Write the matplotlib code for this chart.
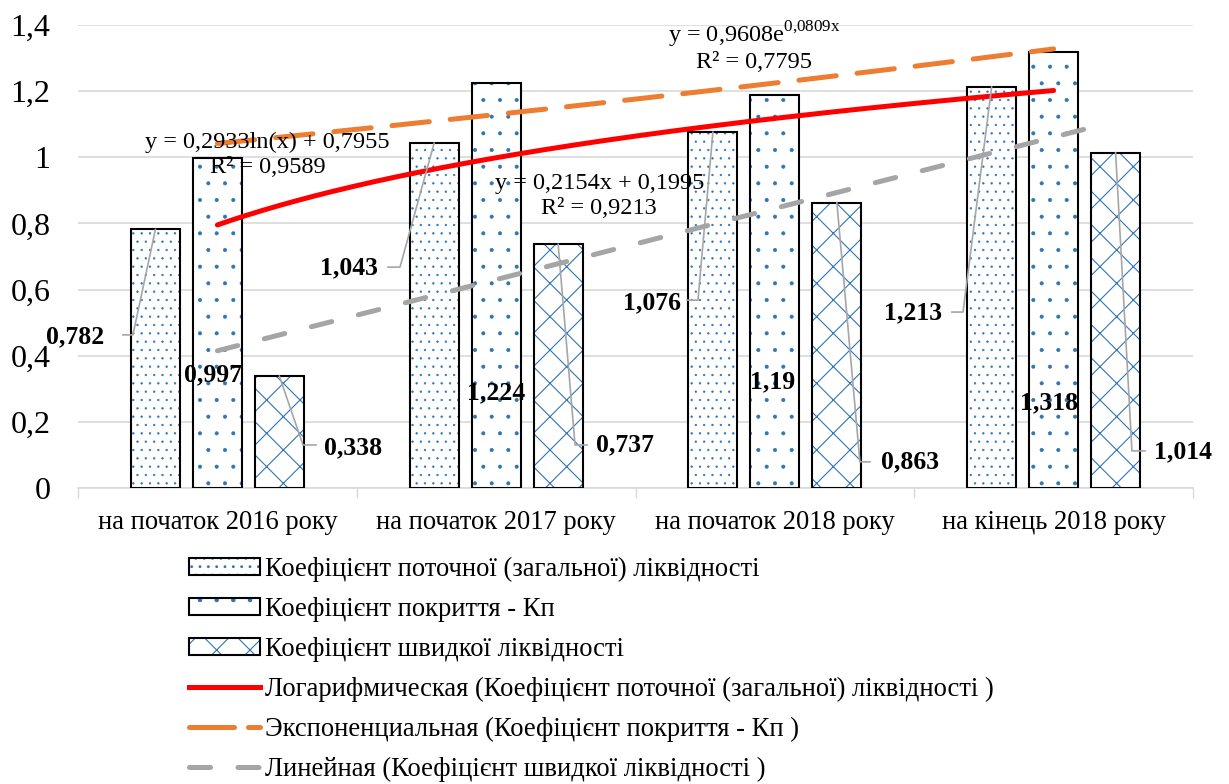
import numpy as np
import matplotlib.pyplot as plt
from matplotlib.patches import Patch
from matplotlib.lines import Line2D

plt.rcParams['font.family'] = ['Liberation Serif', 'DejaVu Serif']
plt.rcParams['mathtext.fontset'] = 'custom'
plt.rcParams['mathtext.rm'] = 'Liberation Serif'
plt.rcParams['hatch.linewidth'] = 0.8

categories = ['на початок 2016 року', 'на початок 2017 року',
              'на початок 2018 року', 'на кінець 2018 року']
current_ratio = [0.782, 1.043, 1.076, 1.213]
coverage_ratio = [0.997, 1.224, 1.19, 1.318]
quick_ratio = [0.338, 0.737, 0.863, 1.014]

series_names = ['Коефіцієнт поточної (загальної) ліквідності',
                'Коефіцієнт покриття - Кп',
                'Коефіцієнт швидкої ліквідності']

# trendline coefficients and R^2
log_coef = [0.2933, 0.7955]
log_r2 = 0.9589
exp_coef = [0.9608, 0.0809]
exp_r2 = 0.7795
lin_coef = [0.2154, 0.1995]
lin_r2 = 0.9213

hatch_blue = '#2e75b6'
red = '#ff0000'
orange = '#ed7d31'
grey = '#a5a5a5'
leader = '#a6a6a6'

hatches = ['..', '.', 'x']
hatch_lw = [0.45, 0.45, 0.8]


def fmt(v, nd=None):
    s = f'{v:.{nd}f}' if nd is not None else f'{v:g}'
    return s.replace('.', ',')


def hatch_patch(k, **kw):
    p = Patch(facecolor='white', edgecolor=hatch_blue, lw=0, hatch=hatches[k], **kw)
    if hasattr(p, 'set_hatch_linewidth'):
        p.set_hatch_linewidth(hatch_lw[k])
    return p


fig = plt.figure(figsize=(12.29, 7.84), dpi=100)
ax = fig.add_axes([0.0635, 0.3776, 0.9072, 0.5904])

x = np.arange(len(categories))
width = 0.176
step = 0.2224
all_series = [current_ratio, coverage_ratio, quick_ratio]

for k, vals in enumerate(all_series):
    pos = x + (k - 1) * step
    bars = ax.bar(pos, vals, width, facecolor='white', edgecolor=hatch_blue,
                  linewidth=0, hatch=hatches[k], zorder=2)
    for b in bars:
        if hasattr(b, 'set_hatch_linewidth'):
            b.set_hatch_linewidth(hatch_lw[k])
    ax.bar(pos, vals, width, fill=False, edgecolor='black',
           linewidth=1.5, zorder=3)

# trendlines, x counted from 1 as in the spreadsheet
t = np.linspace(1, 4, 200)
ax.plot(t - 1, log_coef[0] * np.log(t) + log_coef[1], color=red, lw=3.6,
        solid_capstyle='round', zorder=4)
ax.plot(t - 1, exp_coef[0] * np.exp(exp_coef[1] * t), color=orange, lw=3.6,
        dashes=(7.5, 4.2), dash_capstyle='round', zorder=4)
t2 = np.linspace(1, 4.2, 200)
ax.plot(t2 - 1, lin_coef[0] * t2 + lin_coef[1], color=grey, lw=3.6,
        dashes=(4.2, 5.5), dash_capstyle='round', zorder=4)

# trendline equations
eq_size = 17.5
ax.text(0.18, 1.045, f'y = {fmt(log_coef[0], 4)}ln(x) + {fmt(log_coef[1], 4)}',
        ha='center', va='center', fontsize=eq_size, zorder=5)
ax.text(0.18, 0.968, f'R² = {fmt(log_r2, 4)}', ha='center', va='center',
        fontsize=eq_size, zorder=5)
ax.text(1.37, 0.92, f'y = {fmt(lin_coef[0], 4)}x + {fmt(lin_coef[1], 4)}',
        ha='center', va='center', fontsize=eq_size, zorder=5)
ax.text(1.37, 0.845, f'R² = {fmt(lin_r2, 4)}', ha='center', va='center',
        fontsize=eq_size, zorder=5)
exp_a = fmt(exp_coef[0], 4)
exp_b = fmt(exp_coef[1], 4).replace(',', '{,}')
ax.text(1.926, 1.37, f'y = {exp_a}e$^{{\\mathrm{{{exp_b}x}}}}$',
        ha='center', va='center', fontsize=eq_size, zorder=5)
ax.text(1.926, 1.288, f'R² = {fmt(exp_r2, 4)}', ha='center', va='center',
        fontsize=eq_size, zorder=5)

# data labels: (x, y) of the text and leader elbow (x, y, end x) or None
label_xy = [
    [(-0.511, 0.457), (0.472, 0.665), (1.559, 0.559), (2.496, 0.529)],
    [(-0.016, 0.342), (1.0, 0.287), (1.990, 0.321), (2.983, 0.257)],
    [(0.487, 0.121), (1.462, 0.130), (2.485, 0.079), (3.464, 0.109)],
]
elbows = [
    [(-0.303, 0.463, -0.339), (0.655, 0.668, 0.612),
     (1.724, 0.568, 1.685), (2.675, 0.532, 2.635)],
    [None, None, None, None],
    [(0.307, 0.130, 0.354), (1.283, 0.130, 1.326),
     (2.305, 0.079, 2.341), (3.281, 0.112, 3.328)],
]
for k, vals in enumerate(all_series):
    for i, v in enumerate(vals):
        bx = x[i] + (k - 1) * step
        el = elbows[k][i]
        if el is not None:
            ax.plot([bx, el[0], el[2]], [v, el[1], el[1]], color=leader,
                    lw=1.2, zorder=5)
        lx, ly = label_xy[k][i]
        ax.text(lx, ly, fmt(v), ha='center', va='center', fontsize=18.5,
                fontweight='bold', zorder=6)

# axes styling
ax.set_xlim(-0.5, 3.5)
ax.set_ylim(0, 1.4)
yt = np.arange(0, 1.41, 0.2)
ax.set_yticks(yt)
ax.set_yticklabels([fmt(round(v, 1)) for v in yt])
ax.tick_params(axis='y', length=0, labelsize=23, pad=20)
ax.set_xticks(x)
ax.set_xticklabels(categories)
ax.set_xticks(np.arange(-0.5, 3.6, 1), minor=True)
ax.tick_params(axis='x', which='major', length=0, labelsize=19.2, pad=16)
ax.tick_params(axis='x', which='minor', length=7, color='#d9d9d9', width=1)
ax.grid(axis='y', color='#d9d9d9', lw=1.2, zorder=0)
ax.set_axisbelow(True)
for side in ['left', 'right', 'top']:
    ax.spines[side].set_visible(False)
ax.spines['bottom'].set_color('#d9d9d9')
ax.spines['bottom'].set_linewidth(1.2)

# legend
handles = []
for k in range(3):
    handles.append((hatch_patch(k),
                    Patch(fill=False, edgecolor='black', lw=1.5)))
handles += [
    Line2D([], [], color=red, lw=3.6),
    Line2D([], [], color=orange, lw=3.6, dashes=(9, 2.8), dash_capstyle='round'),
    Line2D([], [], color=grey, lw=3.6, dashes=(4.2, 5.5), dash_capstyle='round'),
]
labels = series_names + [
    'Логарифмическая (' + series_names[0] + ' )',
    'Экспоненциальная (' + series_names[1] + ' )',
    'Линейная (' + series_names[2] + ' )',
]
fig.legend(handles, labels, loc='upper left', bbox_to_anchor=(0.1453, 0.303),
           frameon=False, fontsize=19.2, handlelength=2.65, handleheight=0.6,
           handletextpad=0.2, labelspacing=0.56, borderaxespad=0)

fig.savefig('out.png', dpi=100)
